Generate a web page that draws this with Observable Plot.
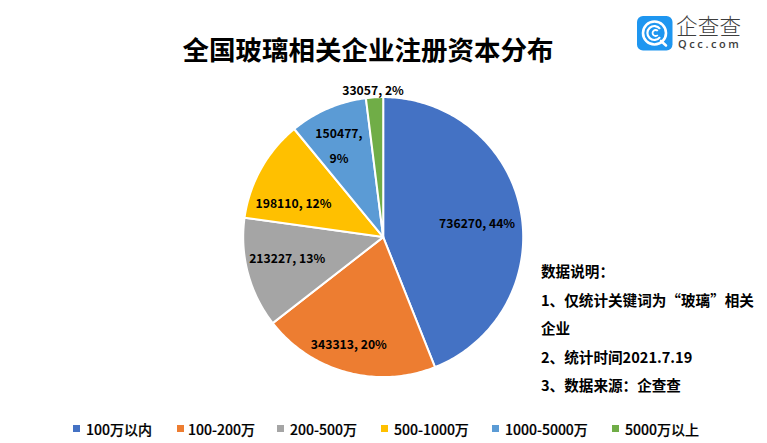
<!DOCTYPE html>
<html><head><meta charset="utf-8">
<script src="https://cdn.jsdelivr.net/npm/d3@7"></script>
<script src="https://cdn.jsdelivr.net/npm/@observablehq/plot@0.6"></script>
<style>
html,body{margin:0;padding:0;background:#fff}
#page{position:relative;width:767px;height:443px;overflow:hidden;font-family:"Noto Sans CJK SC","Noto Sans",sans-serif;color:#000}
#title{position:absolute;left:0;width:736px;top:29.5px;text-align:center;font-size:26.5px;font-weight:700;line-height:38px}
#chart{position:absolute;left:0;top:70px}
#chart svg{display:block;background:transparent}
#notes{position:absolute;left:541px;top:257px;width:222px;font-size:14.6px;font-weight:700;line-height:28.5px}
.lg{position:absolute;top:419px;font-size:14px;font-weight:500;line-height:20px;white-space:nowrap;-webkit-text-stroke:.2px #000}
.sw{position:absolute;top:425px;width:7px;height:7px}
#logo{position:absolute;left:637px;top:16px}
#logo1{position:absolute;left:676px;top:15px;font-size:21.5px;line-height:20px;height:20px;color:#3d3d3d;font-weight:300;letter-spacing:.2px}
#logo2{position:absolute;left:678px;top:38px;font-family:"Open Sans",sans-serif;font-size:11px;line-height:12px;color:#3d3d3d;letter-spacing:2.6px;font-weight:600}
</style></head><body>
<div id="page">
  <div id="title"></div>
  <div id="chart"></div>
  <div id="notes"></div>
  <svg id="logo" width="36" height="35" viewBox="0 0 36 35">
    <rect x="0" y="0" width="35.5" height="34.5" rx="6" fill="#1e96f0"/>
    <circle cx="17.5" cy="17" r="11.5" fill="none" stroke="#fff" stroke-width="2.6"/>
    <path d="M23 12.8a7 7 0 1 0 0 8.4" fill="none" stroke="#fff" stroke-width="2.2"/>
    <path d="M20.8 15a3 3 0 1 0 0 4" fill="none" stroke="#fff" stroke-width="1.8"/>
    <path d="M24 25l5 4.5" stroke="#fff" stroke-width="2.6" stroke-linecap="round"/>
  </svg>
  <div id="logo1">企查查</div>
  <div id="logo2">Qcc.com</div>
</div>
<script>
const titleText = "全国玻璃相关企业注册资本分布";
const categories = ["100万以内","100-200万","200-500万","500-1000万","1000-5000万","5000万以上"];
const values = [736270,343313,213227,198110,150477,33057];
const percents = ["44%","20%","13%","12%","9%","2%"];
const colors = ["#4472c4","#ed7d31","#a5a5a5","#ffc000","#5b9bd5","#70ad47"];
const noteLines = ["数据说明：","1、仅统计关键词为“玻璃”相关","企业","2、统计时间2021.7.19","3、数据来源：企查查"];

// layout only
const W = 767, H = 340, R = 140, CX = 382.7, CY = 166.6;
const labelRadius = [0.69,0.80,0.725,0.685,0.71,1.06];
const labelNudge = [[-1,5],[-5,0],[2,-4],[-6,14],[-5,1],[-1,2]];
const legendX = [[73,86],[177,188],[277,290],[381,394],[492,505],[612,625]];

document.getElementById("title").textContent = titleText;
document.getElementById("notes").innerHTML = noteLines.map(t => `<div>${t}</div>`).join("");

const arcs = d3.pie().sort(null).value(d => d)(values);
const outline = arcs.flatMap((a, i) => {
  const n = Math.max(4, Math.ceil((a.endAngle - a.startAngle) * 60));
  const pts = [{x:0, y:0, cat:categories[i]}];
  for (let k = 0; k <= n; k++) {
    const t = a.startAngle + (a.endAngle - a.startAngle) * k / n;
    pts.push({x:Math.sin(t), y:Math.cos(t), cat:categories[i]});
  }
  return pts;
});

const labels = arcs.flatMap((a, i) => {
  const m = (a.startAngle + a.endAngle) / 2, r = labelRadius[i];
  const [nx, ny] = labelNudge[i];
  const base = {x:Math.sin(m)*r + nx/R, y:Math.cos(m)*r - ny/R};
  return i === 4
    ? [{...base, y:base.y+0.09, text:`${values[i]},`},{...base, y:base.y-0.09, text:percents[i]}]
    : [{...base, text:`${values[i]}, ${percents[i]}`}];
});

const chart = Plot.plot({
  width: W, height: H, margin: 0,
  x: {domain:[-CX/R,(W-CX)/R], range:[0,W], axis:null},
  y: {domain:[-(H-CY)/R,CY/R], range:[H,0], axis:null},
  color: {domain:categories, range:colors},
  style: {background:"transparent"},
  marks: [
    Plot.line(outline, {x:"x", y:"y", z:"cat", fill:"cat", stroke:"#fff", strokeWidth:2, curve:"linear-closed"}),
    Plot.text(labels, {x:"x", y:"y", text:"text", fontSize:12.2, fontWeight:700, fill:"#000", fontFamily:'"Noto Sans CJK SC","Noto Sans",sans-serif'})
  ]
});
document.getElementById("chart").appendChild(chart);

const page = document.getElementById("page");
categories.forEach((c, i) => {
  const s = document.createElement("div");
  s.className = "sw"; s.style.left = legendX[i][0] + "px"; s.style.background = colors[i];
  const t = document.createElement("div");
  t.className = "lg"; t.style.left = legendX[i][1] + "px"; t.textContent = c;
  page.append(s, t);
});
</script>
</body></html>
